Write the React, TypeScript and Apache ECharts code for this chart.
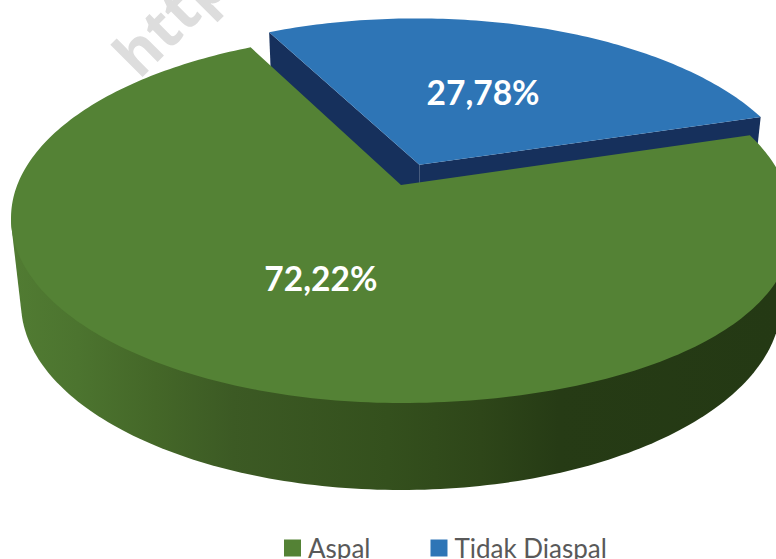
import React, { useEffect, useRef } from "react";
import * as echarts from "echarts";

const categories = ["Aspal", "Tidak Diaspal"];
const shares = [72.22, 27.78];
const shareLabels = ["72,22%", "27,78%"];
const topColors = ["#548235", "#2e75b6"];

const firstSliceEndDeg = 333; // clockwise from twelve o'clock, where slice 1 ends / slice 2 starts
const explode = [0, 0.125];
const labelRadius = [0.5, 0.48];
const labelNudge: [number, number][] = [
  [1.5, 3],
  [-0.5, -2],
];

const W = 776;
const H = 559;
type Ell = { cx: number; cy: number; a: number; b: number; tilt: number };
const top: Ell = { cx: 401, cy: 218, a: 390, b: 185, tilt: 0.15 };
const bottom: Ell = { cx: 401, cy: 303, a: 380, b: 187, tilt: 0 };
const Y0 = -0.178;
const K = Math.sqrt(1 - Y0 * Y0);

function project(u: number, v: number, e: Ell): [number, number] {
  const w = 1 + Y0 * v;
  const X = (u * K) / w;
  const y = e.cy + (e.b * (v + Y0)) / w;
  const shift = X > 0 && y > e.cy ? e.tilt * (y - e.cy) * X : 0;
  return [e.cx + e.a * X + shift, y];
}

function onDisk(deg: number, r: number, off: [number, number]): [number, number] {
  const t = (deg * Math.PI) / 180;
  return [r * Math.sin(t) + off[0], -r * Math.cos(t) + off[1]];
}

function arcPoints(start: number, end: number, off: [number, number], e: Ell) {
  const pts: [number, number][] = [];
  const n = Math.max(2, Math.ceil(end - start));
  for (let i = 0; i <= n; i++) {
    const d = onDisk(start + ((end - start) * i) / n, 1, off);
    pts.push(project(d[0], d[1], e));
  }
  return pts;
}

// Lower outline of a set of screen points (y grows downward), left to right.
function lowerHull(points: [number, number][]) {
  const sorted = points.slice().sort((p, q) => p[0] - q[0] || p[1] - q[1]);
  const hull: [number, number][] = [];
  for (const p of sorted) {
    while (hull.length >= 2) {
      const a = hull[hull.length - 2];
      const b = hull[hull.length - 1];
      const cross = (b[0] - a[0]) * (p[1] - a[1]) - (b[1] - a[1]) * (p[0] - a[0]);
      if (cross >= 0) hull.pop();
      else break;
    }
    hull.push(p);
  }
  return hull;
}

function sliceRange(index: number): [number, number] {
  const total = shares.reduce((s, x) => s + x, 0);
  const blueSpan = (shares[1] / total) * 360;
  const greenSpan = (shares[0] / total) * 360;
  if (index === 1) return [firstSliceEndDeg, firstSliceEndDeg + blueSpan];
  return [firstSliceEndDeg + blueSpan, firstSliceEndDeg + blueSpan + greenSpan];
}

function makeRender(index: number) {
  return (_params: any, _api: any) => {
    const [s, e] = sliceRange(index);
    const mid = (s + e) / 2;
    const t = (mid * Math.PI) / 180;
    const off: [number, number] = [explode[index] * Math.sin(t), -explode[index] * Math.cos(t)];
    const apexTop = project(off[0], off[1], top);
    const apexBot = project(off[0], off[1], bottom);
    const arcTop = arcPoints(s, e, off, top);
    const arcBot = arcPoints(s, e, off, bottom);
    const children: any[] = [];
    if (index === 1) {
      const fill = "#16305c";
      children.push({
        type: "polygon",
        shape: { points: [apexTop, arcTop[0], arcBot[0], apexBot] },
        style: { fill },
      });
      children.push({
        type: "polygon",
        shape: { points: [apexTop, arcTop[arcTop.length - 1], arcBot[arcBot.length - 1], apexBot] },
        style: { fill },
      });
    } else {
      children.push({
        type: "polygon",
        shape: { points: lowerHull([...arcTop, ...arcBot]) },
        style: {
          fill: new echarts.graphic.LinearGradient(
            0,
            0,
            W,
            0,
            [
              { offset: 0, color: "#527d33" },
              { offset: 0.1, color: "#4c742f" },
              { offset: 0.2, color: "#446728" },
              { offset: 0.3, color: "#3c5a24" },
              { offset: 0.5, color: "#34501d" },
              { offset: 0.62, color: "#2e4619" },
              { offset: 0.72, color: "#263b15" },
              { offset: 1, color: "#243914" },
            ],
            true
          ),
        },
      });
    }
    children.push({
      type: "polygon",
      shape: { points: [apexTop, ...arcTop] },
      style: { fill: topColors[index] },
    });
    const lab = onDisk(mid, labelRadius[index], off);
    const lp = project(lab[0], lab[1], top);
    children.push({
      type: "text",
      x: lp[0] + labelNudge[index][0],
      y: lp[1] + labelNudge[index][1],
      z2: 10,
      style: {
        text: shareLabels[index],
        fill: "#ffffff",
        font: 'bold 33.5px Lato, "Open Sans", sans-serif',
        align: "center",
        verticalAlign: "middle",
      },
    });
    return { type: "group", children };
  };
}

export default function App() {
  const ref = useRef<HTMLDivElement>(null);
  useEffect(() => {
    const chart = echarts.init(ref.current!, null, { renderer: "svg" });
    chart.setOption({
      animation: false,
      backgroundColor: "#ffffff",
      legend: {
        data: categories,
        left: 284,
        top: 535,
        padding: 0,
        itemWidth: 17,
        itemHeight: 17,
        itemGap: 60,
        icon: "rect",
        textStyle: {
          color: "#595959",
          fontSize: 26,
          lineHeight: 17,
          fontFamily: "Lato, sans-serif",
          padding: [0, 0, 0, 2],
        },
      },
      graphic: [
        {
          type: "text",
          x: 123,
          y: 64,
          rotation: Math.PI / 4,
          z: -1,
          silent: true,
          style: {
            text: "http://",
            fill: "#dddddd",
            font: 'bold 60px "Open Sans", sans-serif',
            align: "left",
            verticalAlign: "middle",
          },
        },
      ],
      series: categories.map((name, i) => ({
        type: "custom",
        name,
        coordinateSystem: "none",
        z: i === 1 ? 2 : 3,
        itemStyle: { color: topColors[i] },
        data: [[shares[i]]],
        renderItem: makeRender(i),
      })),
    });
    return () => chart.dispose();
  }, []);
  return (
    <div
      ref={ref}
      style={{ position: "fixed", left: 0, top: 0, width: W, height: H, overflow: "hidden" }}
    />
  );
}
